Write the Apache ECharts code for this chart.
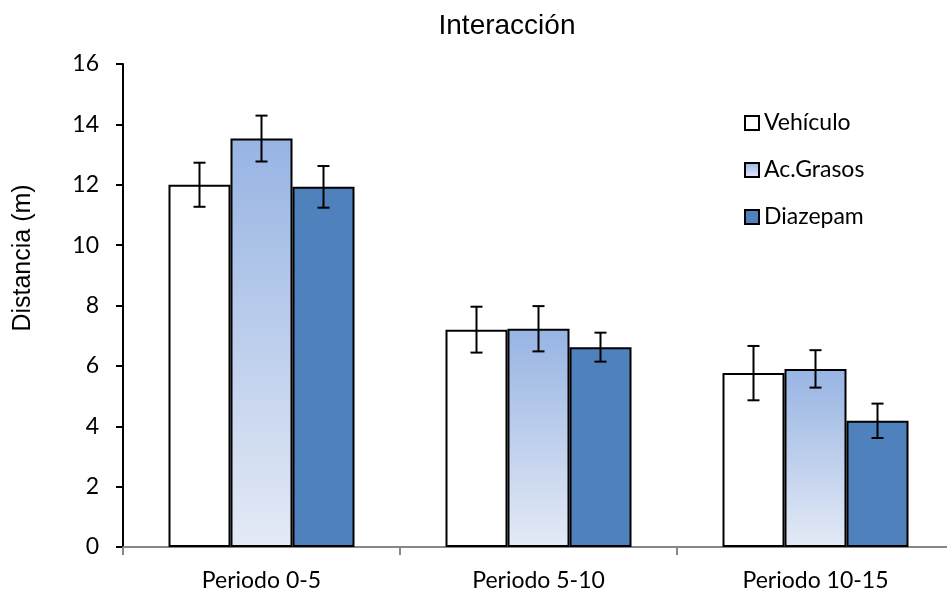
<!DOCTYPE html>
<html>
<head>
<meta charset="utf-8">
<script src="https://cdn.jsdelivr.net/npm/echarts@6/dist/echarts.min.js"></script>
<style>
  html, body { margin: 0; padding: 0; background: #fff; }
  #chart { width: 947px; height: 594px; }
</style>
</head>
<body>
<div id="chart"></div>
<script>
// Periods and group names
const periods = ['Periodo 0-5', 'Periodo 5-10', 'Periodo 10-15'];
const groups = ['Vehículo', 'Ac.Grasos', 'Diazepam'];

// Mean distance (m) per group and period
const vehiculo = [12.0, 7.2, 5.76];
const acGrasos = [13.53, 7.23, 5.9];
const diazepam = [11.93, 6.62, 4.18];

// Standard error per group and period
const errVehiculo = [0.73, 0.76, 0.9];
const errAcGrasos = [0.76, 0.75, 0.62];
const errDiazepam = [0.69, 0.48, 0.57];

const BAR_W = 62;

const fills = [
  '#ffffff',
  new echarts.graphic.LinearGradient(0, 0, 0, 1, [
    { offset: 0, color: '#97B4E3' },
    { offset: 1, color: '#E4EAF6' }
  ]),
  '#4F81BD'
];

const means = [vehiculo, acGrasos, diazepam];
const errs = [errVehiculo, errAcGrasos, errDiazepam];

// Error bars: vertical whisker with a cap at each end, centred on its bar
function errorSeries(k) {
  const data = periods.map((p, i) => [i, means[k][i] - errs[k][i], means[k][i] + errs[k][i]]);
  return {
    type: 'custom',
    name: groups[k] + ' error',
    z: 10,
    silent: true,
    data: data,
    encode: { x: 0, y: [1, 2] },
    renderItem: function (params, api) {
      const idx = api.value(0);
      const lo = api.coord([idx, api.value(1)]);
      const hi = api.coord([idx, api.value(2)]);
      const x = lo[0] + (k - 1) * BAR_W;
      const cap = 6;
      const style = { stroke: '#000', lineWidth: 2 };
      return {
        type: 'group',
        children: [
          { type: 'line', shape: { x1: x, y1: hi[1], x2: x, y2: lo[1] }, style: style },
          { type: 'line', shape: { x1: x - cap, y1: hi[1], x2: x + cap, y2: hi[1] }, style: style },
          { type: 'line', shape: { x1: x - cap, y1: lo[1], x2: x + cap, y2: lo[1] }, style: style }
        ]
      };
    }
  };
}

const barSeries = groups.map((g, k) => ({
  type: 'bar',
  name: g,
  data: means[k],
  barWidth: BAR_W,
  barGap: '0%',
  itemStyle: { color: fills[k], borderColor: '#000', borderWidth: 2 }
}));

const chart = echarts.init(document.getElementById('chart'), null, { renderer: 'canvas' });
chart.setOption({
  animation: false,
  backgroundColor: '#fff',
  title: {
    text: 'Interacción',
    left: 502,
    textAlign: 'center',
    top: 7,
    textStyle: { fontFamily: 'Liberation Sans, Arial', fontWeight: 'normal', fontSize: 28, color: '#000' }
  },
  graphic: [{
    type: 'text',
    x: 23,
    y: 258,
    rotation: Math.PI / 2,
    style: {
      text: 'Distancia (m)',
      fontFamily: 'Liberation Sans, Arial',
      fontSize: 25,
      fill: '#000',
      align: 'center',
      verticalAlign: 'middle'
    }
  }],
  legend: {
    orient: 'vertical',
    left: 744,
    top: 111,
    padding: 0,
    itemWidth: 14,
    itemHeight: 14,
    itemGap: 23,
    icon: 'rect',
    data: groups,
    textStyle: { fontFamily: 'Lato', fontSize: 23, color: '#000', lineHeight: 24 }
  },
  grid: { left: 123, top: 64, width: 831, bottom: 47, containLabel: false, outerBoundsMode: 'none' },
  xAxis: {
    type: 'category',
    data: periods,
    axisLine: { lineStyle: { color: '#878787', width: 2 } },
    axisTick: { show: true, length: 8, lineStyle: { color: '#878787', width: 2 } },
    axisLabel: { margin: 22, fontFamily: 'Lato', fontSize: 23, color: '#000' }
  },
  yAxis: {
    type: 'value',
    min: 0,
    max: 16,
    interval: 2,
    splitLine: { show: false },
    axisLine: { show: true, lineStyle: { color: '#000', width: 2 } },
    axisTick: { show: true, length: 7, lineStyle: { color: '#000', width: 2 } },
    axisLabel: { margin: 24, fontFamily: 'Lato', fontSize: 23, color: '#000' }
  },
  series: barSeries.concat([errorSeries(0), errorSeries(1), errorSeries(2)])
});
</script>
</body>
</html>
